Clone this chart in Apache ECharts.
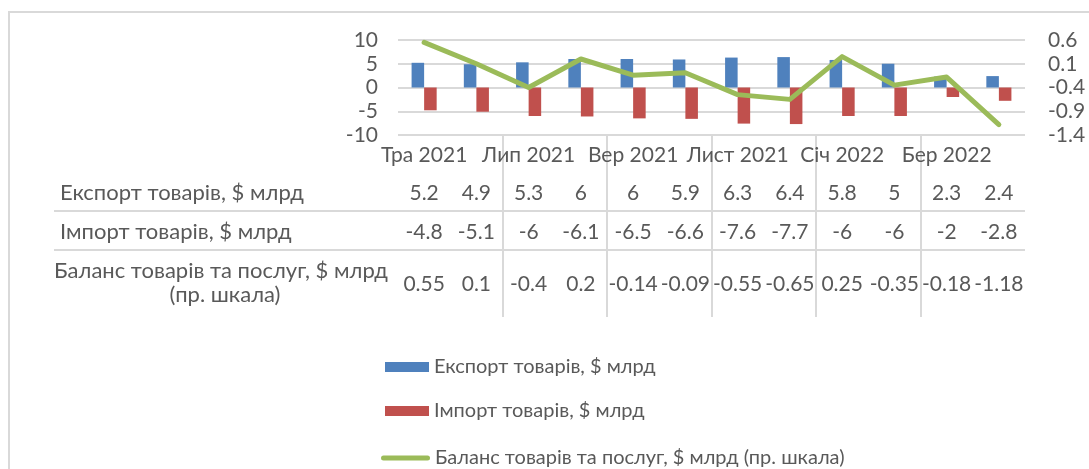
<!DOCTYPE html>
<html><head><meta charset="utf-8">
<script src="https://cdn.jsdelivr.net/npm/echarts@6/dist/echarts.min.js"></script>
<style>html,body{margin:0;padding:0;background:#fff}#c{width:1089px;height:469px}</style>
</head><body><div id="c"></div>
<script>
const categories = ['Тра 2021','Чер 2021','Лип 2021','Сер 2021','Вер 2021','Жов 2021','Лист 2021','Гру 2021','Січ 2022','Лют 2022','Бер 2022','Кві 2022'];
const exportValues = [5.2, 4.9, 5.3, 6, 6, 5.9, 6.3, 6.4, 5.8, 5, 2.3, 2.4];
const importValues = [-4.8, -5.1, -6, -6.1, -6.5, -6.6, -7.6, -7.7, -6, -6, -2, -2.8];
const balanceValues = [0.55, 0.1, -0.4, 0.2, -0.14, -0.09, -0.55, -0.65, 0.25, -0.35, -0.18, -1.18];
const seriesNames = ['Експорт товарів, $ млрд', 'Імпорт товарів, $ млрд', 'Баланс товарів та послуг, $ млрд (пр. шкала)'];
const rowLabels = ['Експорт товарів, $ млрд', 'Імпорт товарів, $ млрд', 'Баланс товарів та послуг, $ млрд', '(пр. шкала)'];
const leftTicks = [-10, -5, 0, 5, 10];
const rightTicks = [-1.4, -0.9, -0.4, 0.1, 0.6];

const FONT = 'Lato';
const TXT = '#595959';
const GRID = '#d9d9d9';
const colors = ['#4F81BD', '#C0504D', '#9BBB59'];

const chart = echarts.init(document.getElementById('c'), null, {renderer: 'canvas'});

function rowAxis(values, offset) {
  return {
    type: 'category', gridIndex: 0, position: 'bottom', offset: offset,
    data: values.map(v => String(v)),
    axisLine: {show: false}, axisTick: {show: false}, splitLine: {show: false},
    axisLabel: {interval: 0, margin: 0, verticalAlign: 'middle', color: TXT, fontFamily: FONT, fontSize: 21}
  };
}

const option = {
  animation: false,
  backgroundColor: '#fff',
  color: colors,
  textStyle: {fontFamily: FONT},
  grid: [
    {left: 398, right: 64, top: 40, height: 95},
    {left: 398, right: 64, top: 135, height: 182}
  ],
  xAxis: [
    {
      type: 'category', gridIndex: 0, data: categories,
      axisLine: {show: false}, axisTick: {show: false}, splitLine: {show: false},
      axisLabel: {interval: 1, margin: 20, verticalAlign: 'middle', color: TXT, fontFamily: FONT, fontSize: 21}
    },
    rowAxis(exportValues, 58),
    rowAxis(importValues, 97),
    rowAxis(balanceValues, 149),
    {
      type: 'category', gridIndex: 1, data: categories,
      axisLine: {show: false}, axisTick: {show: false}, axisLabel: {show: false},
      splitLine: {show: true, showMinLine: false, showMaxLine: false, lineStyle: {color: GRID, width: 2}}
    }
  ],
  yAxis: [
    {
      type: 'value', gridIndex: 0, min: leftTicks[0], max: leftTicks[leftTicks.length - 1], interval: 5,
      axisLine: {show: false}, axisTick: {show: false},
      splitLine: {lineStyle: {color: GRID, width: 2}},
      axisLabel: {margin: 20, color: TXT, fontFamily: FONT, fontSize: 21}
    },
    {
      type: 'value', gridIndex: 0, position: 'right', min: rightTicks[0], max: rightTicks[rightTicks.length - 1], interval: 0.5,
      axisLine: {show: false}, axisTick: {show: false}, splitLine: {show: false},
      axisLabel: {margin: 23, color: TXT, fontFamily: FONT, fontSize: 21,
        formatter: v => String(Math.round(v * 100) / 100)}
    },
    {type: 'value', gridIndex: 1, show: false}
  ],
  legend: [
    {
      orient: 'vertical', left: 380, top: 352, itemWidth: 44, itemHeight: 10, itemGap: 24,
      textStyle: {color: TXT, fontFamily: FONT, fontSize: 20},
      data: [
        {name: seriesNames[0], icon: 'rect'},
        {name: seriesNames[1], icon: 'rect'}
      ]
    },
    {
      orient: 'vertical', left: 376, top: 443, itemWidth: 49, itemHeight: 5,
      textStyle: {color: TXT, fontFamily: FONT, fontSize: 20},
      data: [
        {name: seriesNames[2], icon: 'path://M2.5,0 L46.5,0 A2.5,2.5 0 0 1 46.5,5 L2.5,5 A2.5,2.5 0 0 1 2.5,0 Z', itemStyle: {color: colors[2]}}
      ]
    }
  ],
  series: [
    {name: seriesNames[0], type: 'bar', xAxisIndex: 0, yAxisIndex: 0, data: exportValues, barWidth: '24%', barGap: '0%', itemStyle: {color: colors[0]}},
    {name: seriesNames[1], type: 'bar', xAxisIndex: 0, yAxisIndex: 0, data: importValues, barWidth: '24%', barGap: '0%', itemStyle: {color: colors[1]}},
    {name: seriesNames[2], type: 'line', xAxisIndex: 0, yAxisIndex: 1, data: balanceValues, symbol: 'none', lineStyle: {color: colors[2], width: 5, cap: 'round', join: 'round'}, itemStyle: {color: colors[2]}}
  ],
  graphic: [
    {type: 'rect', shape: {x: 9, y: 12, width: 1200, height: 600}, style: {fill: 'none', stroke: GRID, lineWidth: 2}, silent: true},
    {type: 'line', shape: {x1: 54, y1: 211, x2: 1025, y2: 211}, style: {stroke: GRID, lineWidth: 2}},
    {type: 'line', shape: {x1: 54, y1: 250, x2: 1025, y2: 250}, style: {stroke: GRID, lineWidth: 2}},
    {type: 'text', x: 60, y: 193, style: {text: rowLabels[0], fill: TXT, font: '22px ' + FONT, verticalAlign: 'middle'}},
    {type: 'text', x: 60, y: 232, style: {text: rowLabels[1], fill: TXT, font: '22px ' + FONT, verticalAlign: 'middle'}},
    {type: 'text', x: 54, y: 271, style: {text: rowLabels[2], fill: TXT, font: '22px ' + FONT, verticalAlign: 'middle'}},
    {type: 'text', x: 225, y: 295, style: {text: rowLabels[3], fill: TXT, font: '22px ' + FONT, align: 'center', verticalAlign: 'middle'}}
  ]
};
chart.setOption(option);
</script>
</body></html>
